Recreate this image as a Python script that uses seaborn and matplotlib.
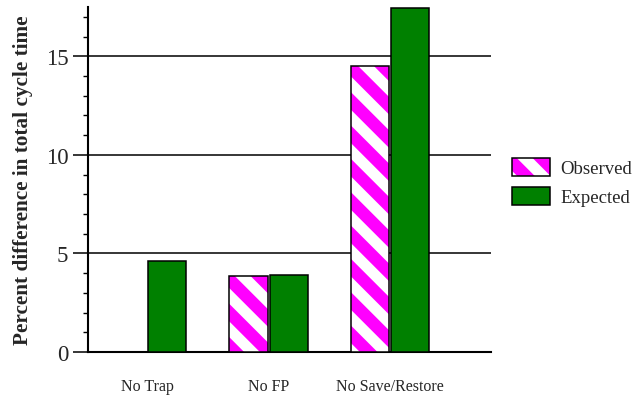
import matplotlib
matplotlib.use("Agg")
import matplotlib.pyplot as plt
import matplotlib.patches as mpatches
from matplotlib.legend_handler import HandlerTuple
from matplotlib.ticker import MultipleLocator
import seaborn as sns
import pandas as pd

categories = ["No Trap", "No FP", "No Save/Restore"]
observed = [0.0, 3.85, 14.5]
expected = [4.6, 3.88, 17.45]
series_names = ["Observed", "Expected"]

sns.set_theme(style="white")
plt.rcParams["font.family"] = ["Liberation Serif", "DejaVu Serif"]
plt.rcParams["hatch.linewidth"] = 8

df = pd.DataFrame({
    "category": categories * 2,
    "value": observed + expected,
    "series": [series_names[0]] * 3 + [series_names[1]] * 3,
})

MAGENTA = "#FF00FF"
GREEN = "#008000"

fig = plt.figure(figsize=(6.32, 4.02), dpi=100)
ax = fig.add_axes([0.139, 0.122, 0.638, 0.858])

sns.barplot(data=df, x="category", y="value", hue="series", order=categories,
            hue_order=series_names, palette=[MAGENTA, GREEN], saturation=1,
            width=0.66, gap=0.05, edgecolor="black", linewidth=1.1, ax=ax,
            legend=False, zorder=3)

n = len(categories)
obs_patches = ax.patches[:n]
for p in obs_patches:
    p.set_hatch("\\")
    p.set_edgecolor("white")
    p.set_linewidth(0)
    if p.get_height() > 0:
        ax.add_patch(mpatches.Rectangle((p.get_x(), p.get_y()), p.get_width(), p.get_height(),
                                        fill=False, edgecolor="black", linewidth=1.1, zorder=4))

ax.set_xlim(-0.486, 2.83)
ax.set_ylim(0, 17.5)
ax.yaxis.set_major_locator(MultipleLocator(5))
ax.yaxis.set_minor_locator(MultipleLocator(1))
ax.yaxis.grid(True, which="major", color="black", linewidth=1.1, zorder=1)
ax.set_axisbelow(True)

for s in ["top", "right"]:
    ax.spines[s].set_visible(False)
for s in ["left", "bottom"]:
    ax.spines[s].set_color("black")
    ax.spines[s].set_linewidth(1.5)

ax.tick_params(axis="y", which="major", direction="out", length=11, width=1.1,
               color="black", labelsize=16.5, pad=3, left=True)
ax.tick_params(axis="y", which="minor", direction="out", length=3.6, width=1.0,
               color="black", left=True)
ax.tick_params(axis="x", length=0, labelsize=11.5, pad=19)

ax.set_xlabel("")
ax.set_ylabel("Percent difference in total cycle time", fontsize=15.3,
              fontweight="bold", labelpad=9.5)

obs_handle = (mpatches.Patch(facecolor=MAGENTA, edgecolor="white", hatch="\\", linewidth=0),
              mpatches.Patch(fill=False, edgecolor="black", linewidth=1.1))
exp_handle = mpatches.Patch(facecolor=GREEN, edgecolor="black", linewidth=1.1)
fig.legend([obs_handle, exp_handle], series_names,
           handler_map={tuple: HandlerTuple(ndivide=1, pad=0)},
           loc="upper left", bbox_to_anchor=(0.810, 0.604), frameon=False,
           fontsize=13.5, handlelength=2.03, handleheight=1.08, handletextpad=0.55,
           labelspacing=0.5, borderaxespad=0, borderpad=0)

fig.savefig("out.png", dpi=100)
